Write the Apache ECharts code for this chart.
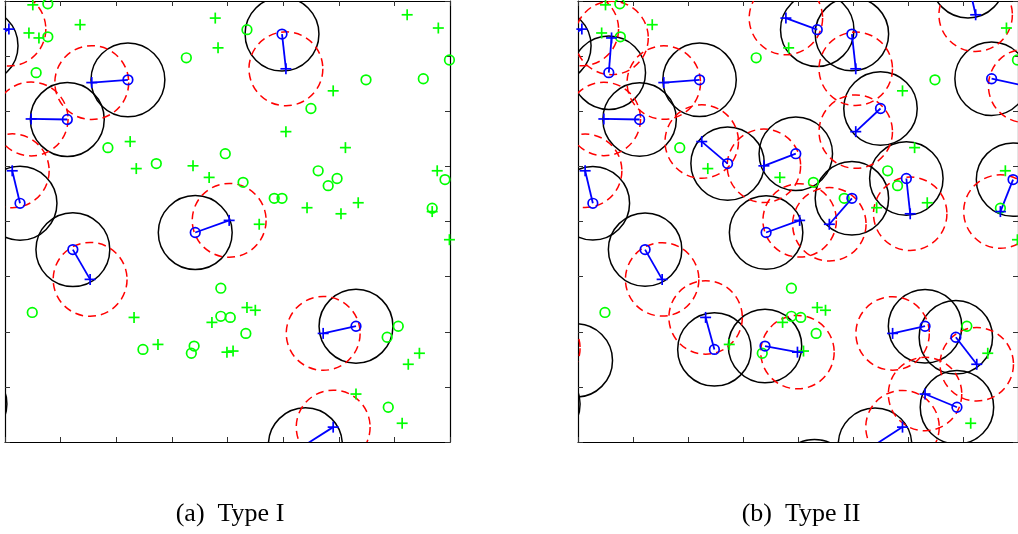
<!DOCTYPE html>
<html>
<head>
<meta charset="utf-8">
<script src="https://cdn.jsdelivr.net/npm/echarts@6/dist/echarts.min.js"></script>
<style>
  html, body { margin: 0; padding: 0; background: #fff; }
  #chart { width: 1018px; height: 534px; }
</style>
</head>
<body>
<div id="chart"></div>
<script>
// axis units are 0..8 on both axes (one unit per tick)
// pairs: [blue o x, blue o y, blue + x, blue + y]
var pairsI = [
  [-0.43, 7.19, 0.07, 7.49],
  [2.21, 6.57, 1.56, 6.52],
  [1.12, 5.85, 0.47, 5.86],
  [0.27, 4.33, 0.13, 4.92],
  [1.22, 3.49, 1.53, 2.95],
  [3.42, 3.80, 4.03, 4.02],
  [4.98, 7.40, 5.05, 6.77],
  [6.31, 2.10, 5.72, 1.97],
  [5.40, -0.05, 5.90, 0.27],
  [-0.63, 0.69, -1.17, 0.40]
];
var greenOI = [
  [0.77, 7.95], [0.77, 7.35], [0.56, 6.70], [1.85, 5.34], [2.72, 5.05],
  [3.96, 5.23], [3.26, 6.97], [4.35, 7.48], [7.99, 6.93], [6.49, 6.57],
  [7.52, 6.59], [5.50, 6.05], [5.63, 4.92], [5.97, 4.78], [5.81, 4.65],
  [7.91, 4.76], [4.28, 4.71], [4.84, 4.42], [4.98, 4.42], [7.68, 4.24],
  [3.88, 2.79], [3.88, 2.28], [4.05, 2.26], [4.33, 1.97], [0.49, 2.35],
  [2.48, 1.68], [3.40, 1.74], [3.35, 1.61], [7.07, 2.10], [6.87, 1.90],
  [6.89, 0.63]
];
var greenPlusI = [
  [0.50, 7.93], [0.43, 7.42], [0.61, 7.33], [1.35, 7.57], [2.25, 5.45],
  [2.36, 4.96], [3.38, 5.01], [3.67, 4.80], [3.78, 7.69], [3.83, 7.15],
  [7.23, 7.75], [7.79, 7.51], [5.90, 6.37], [5.05, 5.63], [6.12, 5.34],
  [7.77, 4.92], [5.43, 4.25], [6.35, 4.34], [6.04, 4.14], [7.68, 4.18],
  [4.57, 3.95], [7.99, 3.67], [4.35, 2.44], [4.50, 2.39], [3.72, 2.17],
  [3.99, 1.63], [4.10, 1.65], [2.32, 2.26], [2.75, 1.77], [7.45, 1.61],
  [7.25, 1.41], [6.31, 0.87], [7.14, 0.34]
];

var pairsII = [
  [-0.43, 7.19, 0.07, 7.49],
  [0.56, 6.70, 0.61, 7.33],
  [2.21, 6.57, 1.56, 6.52],
  [1.12, 5.85, 0.47, 5.86],
  [0.27, 4.33, 0.13, 4.92],
  [2.72, 5.05, 2.25, 5.45],
  [3.96, 5.23, 3.38, 5.01],
  [4.35, 7.48, 3.78, 7.69],
  [4.98, 7.40, 5.05, 6.77],
  [7.09, 8.36, 7.23, 7.75],
  [7.52, 6.59, 8.13, 6.46],
  [5.50, 6.05, 5.05, 5.63],
  [5.97, 4.78, 6.04, 4.14],
  [4.98, 4.42, 4.57, 3.95],
  [7.91, 4.76, 7.68, 4.18],
  [3.42, 3.80, 4.03, 4.02],
  [1.22, 3.49, 1.53, 2.95],
  [2.48, 1.68, 2.32, 2.26],
  [3.40, 1.74, 3.99, 1.63],
  [-0.04, 1.48, -0.63, 1.70],
  [6.31, 2.10, 5.72, 1.97],
  [6.87, 1.90, 7.25, 1.41],
  [6.89, 0.63, 6.31, 0.87],
  [5.40, -0.05, 5.90, 0.27],
  [4.30, -0.62, 4.53, -1.05],
  [-0.63, 0.69, -1.17, 0.40]
];
var greenOII = [
  [0.76, 7.95], [0.77, 7.35], [1.85, 5.34], [3.24, 6.97], [6.49, 6.57],
  [7.99, 6.93], [4.28, 4.71], [5.63, 4.92], [5.81, 4.65], [4.84, 4.42],
  [7.68, 4.24], [0.49, 2.35], [3.88, 2.79], [3.88, 2.28], [4.05, 2.26],
  [4.33, 1.97], [3.35, 1.61], [7.07, 2.10]
];
var greenPlusII = [
  [0.50, 7.93], [0.43, 7.42], [1.35, 7.57], [2.36, 4.96], [3.67, 4.80],
  [3.83, 7.15], [7.79, 7.51], [5.90, 6.37], [6.12, 5.34], [7.77, 4.92],
  [5.43, 4.25], [6.35, 4.34], [7.99, 3.67], [4.35, 2.44], [4.50, 2.39],
  [3.72, 2.17], [4.10, 1.65], [2.75, 1.77], [7.45, 1.61], [7.14, 0.34]
];

var captions = ['(a)  Type I', '(b)  Type II'];
var radius = 0.667;   // coverage circle radius, axis units

var chart = echarts.init(document.getElementById('chart'));

function inside(x, y) {
  return x >= 0 && x <= 8 && y >= 0 && y <= 8;
}

// big circle around (value off, value off+1)
function ringSeries(data, gi, off, color, dash) {
  return {
    type: 'custom', xAxisIndex: gi * 2, yAxisIndex: gi * 2, clip: true,
    data: data, encode: { x: [0, 2], y: [1, 3] },
    renderItem: function (params, api) {
      var c = api.coord([api.value(off), api.value(off + 1)]);
      var s = api.size([radius, radius]);
      return {
        type: 'circle',
        shape: { cx: c[0], cy: c[1], r: (s[0] + s[1]) / 2 },
        style: { fill: null, stroke: color, lineWidth: 1.5, lineDash: dash }
      };
    }
  };
}

function segSeries(data, gi) {
  return {
    type: 'custom', xAxisIndex: gi * 2, yAxisIndex: gi * 2, clip: true,
    data: data, encode: { x: [0, 2], y: [1, 3] },
    renderItem: function (params, api) {
      var a = api.coord([api.value(0), api.value(1)]);
      var b = api.coord([api.value(2), api.value(3)]);
      return {
        type: 'line',
        shape: { x1: a[0], y1: a[1], x2: b[0], y2: b[1] },
        style: { stroke: '#0000ff', lineWidth: 1.8 }
      };
    }
  };
}

// small marker: 'o' or '+'
function markSeries(data, gi, off, kind, color) {
  return {
    type: 'custom', xAxisIndex: gi * 2, yAxisIndex: gi * 2,
    data: data, encode: { x: off, y: off + 1 },
    renderItem: function (params, api) {
      var x = api.value(off), y = api.value(off + 1);
      if (!inside(x, y)) return null;
      var c = api.coord([x, y]);
      var st = { stroke: color, lineWidth: 1.7, fill: null };
      if (kind === 'o') {
        return { type: 'circle', shape: { cx: c[0], cy: c[1], r: 4.8 }, style: st };
      }
      return {
        type: 'group',
        children: [
          { type: 'line', shape: { x1: c[0] - 5.5, y1: c[1], x2: c[0] + 5.5, y2: c[1] }, style: st },
          { type: 'line', shape: { x1: c[0], y1: c[1] - 5.5, x2: c[0], y2: c[1] + 5.5 }, style: st }
        ]
      };
    }
  };
}

function axis(gi, pos) {
  return {
    type: 'value', gridIndex: gi, position: pos,
    min: 0, max: 8, interval: 1,
    axisLine: { show: true, onZero: false, lineStyle: { color: '#000', width: 1.2 } },
    axisTick: { show: true, inside: true, length: 5, lineStyle: { color: '#333' } },
    axisLabel: { show: false },
    splitLine: { show: false }
  };
}

var panels = [
  { pairs: pairsI, go: greenOI, gp: greenPlusI },
  { pairs: pairsII, go: greenOII, gp: greenPlusII }
];

var series = [];
panels.forEach(function (p, gi) {
  series.push(ringSeries(p.pairs, gi, 0, '#000000', null));
  series.push(ringSeries(p.pairs, gi, 2, '#ff0000', [8, 5]));
  series.push(segSeries(p.pairs, gi));
  series.push(markSeries(p.go, gi, 0, 'o', '#00ff00'));
  series.push(markSeries(p.gp, gi, 0, '+', '#00ff00'));
  series.push(markSeries(p.pairs, gi, 0, 'o', '#0000ff'));
  series.push(markSeries(p.pairs, gi, 2, '+', '#0000ff'));
});

var option = {
  backgroundColor: '#fff',
  animation: false,
  grid: [
    { left: 5, top: 1, width: 445, height: 441 },
    { left: 578, top: 1, width: 445, height: 441 }
  ],
  xAxis: [axis(0, 'bottom'), axis(0, 'top'), axis(1, 'bottom'), axis(1, 'top')],
  yAxis: [axis(0, 'left'), axis(0, 'right'), axis(1, 'left'), axis(1, 'right')],
  graphic: [
    { type: 'text', x: 230, y: 514, style: { text: captions[0], font: '26px "Liberation Serif"', fill: '#000', align: 'center', verticalAlign: 'middle' } },
    { type: 'text', x: 801, y: 514, style: { text: captions[1], font: '26px "Liberation Serif"', fill: '#000', align: 'center', verticalAlign: 'middle' } }
  ],
  series: series
};

chart.setOption(option);
</script>
</body>
</html>
